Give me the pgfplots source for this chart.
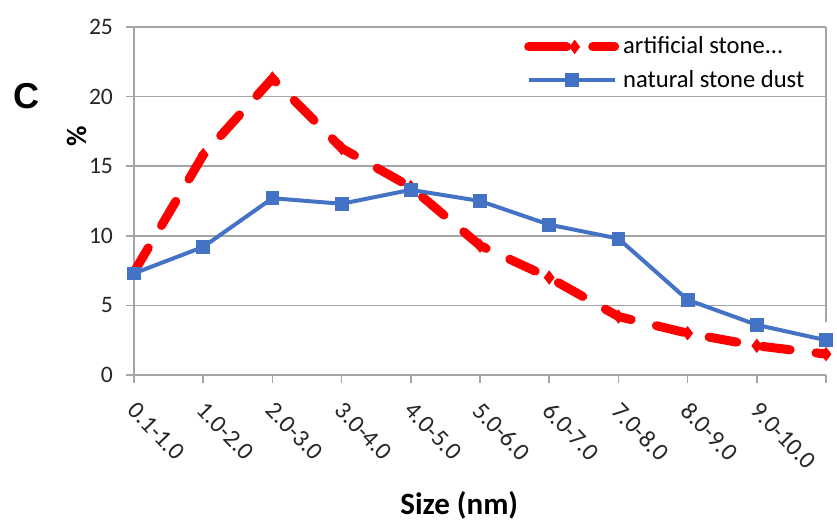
\documentclass[border=0pt]{standalone}
\usepackage{fontspec}
\setmainfont{Carlito}
\newfontfamily\arialfont{Liberation Sans}
\usepackage{pgfplots}
\pgfplotsset{compat=1.18}
\definecolor{exblue}{RGB}{68,114,196}
\definecolor{exred}{RGB}{255,0,0}
\definecolor{gridgray}{RGB}{165,165,165}
\pgfplotsset{
  redleg/.style={legend image code/.code={\draw[##1, dash pattern=on 19pt off 13pt, mark repeat=2, mark phase=2] plot coordinates {(0pt,0pt) (23pt,0pt) (43pt,0pt)};}},
  blueleg/.style={legend image code/.code={\draw[##1, mark repeat=2, mark phase=2] plot coordinates {(0pt,0pt) (21.5pt,0pt) (43pt,0pt)};}},
}
\begin{document}
\begin{tikzpicture}
\begin{axis}[
  scale only axis, width=346pt, height=174pt,
  xmin=0, xmax=10, ymin=0, ymax=25,
  xtick={0,1,2,3,4,5,6,7,8,9,10},
  xticklabels={0.1-1.0,1.0-2.0,2.0-3.0,3.0-4.0,4.0-5.0,5.0-6.0,6.0-7.0,7.0-8.0,8.0-9.0,9.0-10.0},
  ytick={0,5,10,15,20,25},
  axis x line*=bottom, axis y line*=left,
  axis line style={gridgray, line width=0.8pt},
  tick style={gridgray, line width=0.8pt},
  tick align=outside, major tick length=4pt,
  ymajorgrids, grid style={gridgray, line width=0.8pt},
  /pgf/number format/assume math mode=true,
  tick label style={text=black!85},
  x tick label style={font=\fontsize{12.3}{14}\selectfont, rotate=-46, anchor=north west, inner sep=0pt, xshift=2.8pt},
  xticklabel shift=6.5pt,
  y tick label style={font=\fontsize{11.8}{14}\selectfont, xshift=-3pt},
  xlabel={\textbf{Size (nm)}},
  xlabel style={font=\fontsize{15.5}{18}\selectfont, at={(rel axis cs:0.47,-0.40)}, anchor=base},
  ylabel={\textbf{\%}},
  ylabel style={font=\fontsize{14}{16}\selectfont, at={(rel axis cs:-0.083,0.687)}, anchor=center, rotate=0},
  legend style={at={(rel axis cs:0.978,0.99)}, anchor=north east, draw=none, fill=none,
    font=\fontsize{12.3}{14}\selectfont, row sep=2.5pt, inner sep=1pt},
  legend cell align=left,
  clip=false,
]
\addplot[exred, line width=4.5pt, dash pattern=on 14pt off 13pt, line cap=round,
  mark=diamond*, mark size=3.2pt, mark options={solid, fill=exred, draw=exred, line width=0.5pt}, redleg]
  coordinates {(0,7.4) (1,15.8) (2,21.3) (3,16.3) (4,13.5) (5,9.3) (6,7.0) (7,4.2) (8,3.0) (9,2.1) (10,1.5)};
\addlegendentry{artificial stone...}
\addplot[exblue, line width=2pt, mark=square*, mark size=3.2pt, mark options={solid, fill=exblue, draw=exblue, line width=0.4pt}, blueleg]
  coordinates {(0,7.3) (1,9.2) (2,12.7) (3,12.3) (4,13.3) (5,12.5) (6,10.8) (7,9.8) (8,5.4) (9,3.6) (10,2.5)};
\addlegendentry{natural stone dust}
\draw[gridgray, line width=0.8pt] (axis cs:10,3.8) -- (axis cs:10,25);
\node[font=\arialfont\bfseries\fontsize{18}{20}\selectfont, anchor=center] at (rel axis cs:-0.156,0.80) {C};
\coordinate (SW) at (rel axis cs:0,0);
\coordinate (NE) at (rel axis cs:1,1);
\end{axis}
\pgfresetboundingbox
\path[use as bounding box] ([shift={(-67pt,-73.5pt)}]SW) rectangle ([shift={(5.5pt,13.5pt)}]NE);
\end{tikzpicture}
\end{document}
